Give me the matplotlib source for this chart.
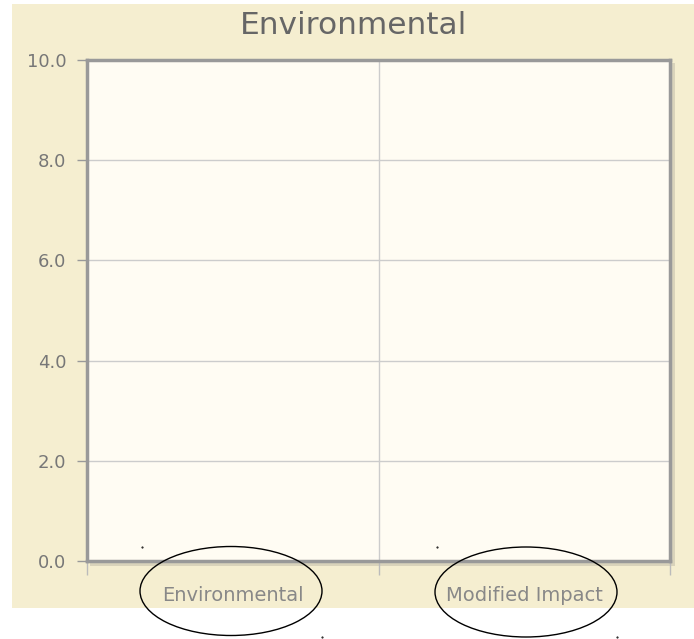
import matplotlib
matplotlib.use("Agg")
import numpy as np
from matplotlib import pyplot as plt
from matplotlib.patches import Rectangle, Ellipse

title = "Environmental"
categories = ["Environmental", "Modified Impact"]
y_ticks = [0.0, 2.0, 4.0, 6.0, 8.0, 10.0]
y_max = 10.0

W, H = 694, 639
fig = plt.figure(figsize=(W / 100, H / 100), dpi=100)
fig.patch.set_facecolor("white")

# overlay in pixel coordinates for the panel, the ellipses and the marks
ov = fig.add_axes([0, 0, 1, 1], zorder=0)
ov.set_xlim(0, W)
ov.set_ylim(H, 0)
ov.axis("off")
ov.add_patch(Rectangle((12, 4), W - 12, 604, facecolor="#f5eed0", edgecolor="none"))
# soft shadow to the right and below the plot frame
ov.add_patch(Rectangle((90, 63), 585, 503, facecolor="#d9d3bb", edgecolor="none"))
ov.text(354, 26, title, fontsize=22.5, color="#666666", ha="center", va="center")

ax = fig.add_axes([87 / W, (H - 561) / H, (670 - 87) / W, (561 - 60) / H], zorder=1)
ax.set_facecolor("#fffcf3")
ax.set_xlim(0, len(categories))
ax.set_ylim(0, y_max)

ax.set_yticks(y_ticks)
ax.set_yticklabels(["%.1f" % v for v in y_ticks])
ax.set_xticks(np.arange(len(categories) + 1))
ax.set_xticklabels([])
ax.set_xticks(np.arange(len(categories)) + 0.5, minor=True)
ax.set_xticklabels(categories, minor=True)

ax.tick_params(axis="y", direction="out", length=7, width=1, color="#999999",
               labelcolor="#777777", labelsize=13, pad=8)
ax.tick_params(axis="x", which="major", direction="out", length=10, width=1,
               color="#bbbbbb")
ax.tick_params(axis="x", which="minor", length=0, labelcolor="#888888",
               labelsize=14, pad=18)

ax.grid(True, which="major", color="#cccccc", linewidth=1)
ax.set_axisbelow(True)
for s in ax.spines.values():
    s.set_color("#999999")
    s.set_linewidth(2.5)

# hand drawn circles around the category labels
ov2 = fig.add_axes([0, 0, 1, 1], zorder=2)
ov2.set_xlim(0, W)
ov2.set_ylim(H, 0)
ov2.axis("off")
ov2.patch.set_alpha(0)
ov2.add_patch(Ellipse((231, 591), 182, 89, facecolor="none", edgecolor="black", linewidth=1))
ov2.add_patch(Ellipse((526, 592), 182, 90, facecolor="none", edgecolor="black", linewidth=1))
ov2.plot([142, 437, 322, 617], [547, 547, 637, 637], "k.", markersize=1)

fig.savefig("out.png", dpi=100)
